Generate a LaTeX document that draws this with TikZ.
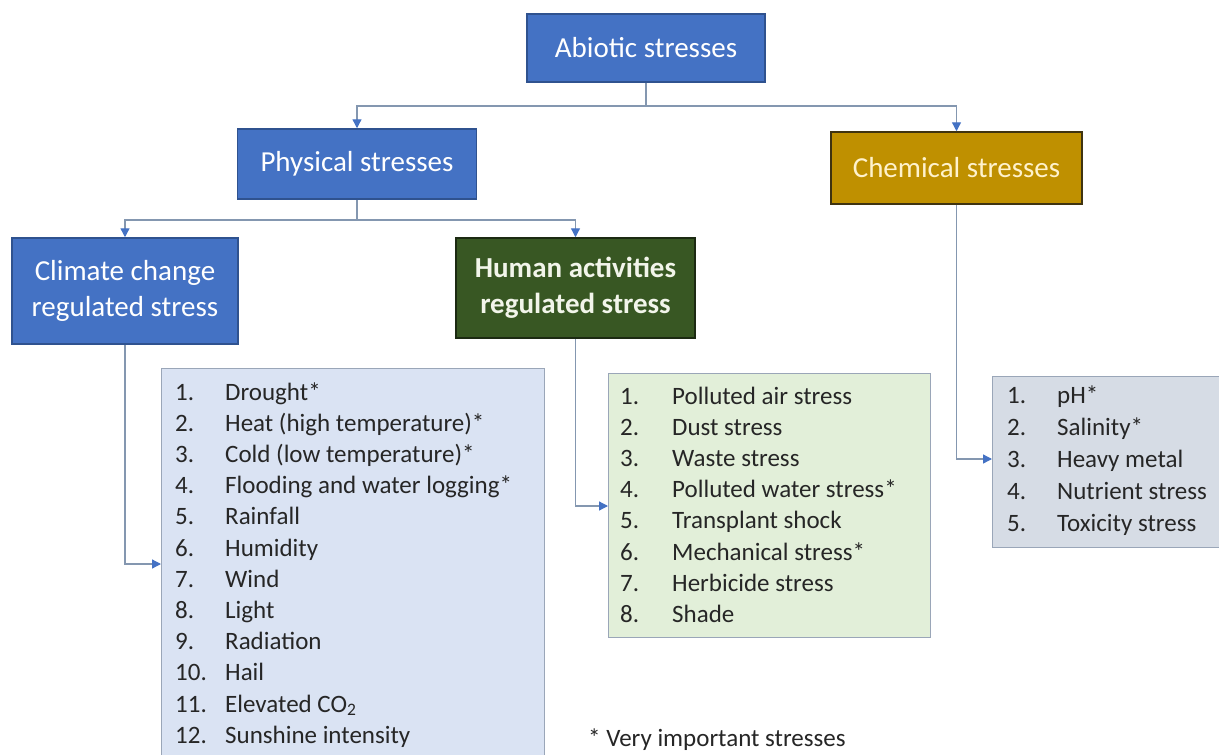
\documentclass[tikz,border=0pt]{standalone}
\usepackage{fontspec}
\setmainfont{Carlito}
\usetikzlibrary{arrows.meta}
\definecolor{boxblue}{HTML}{4472C4}
\definecolor{boxblueline}{HTML}{2F528F}
\definecolor{chemfill}{HTML}{BF9000}
\definecolor{chemline}{HTML}{3F3310}
\definecolor{humfill}{HTML}{385723}
\definecolor{humline}{HTML}{1C2A12}
\definecolor{conncol}{HTML}{8497B0}
\definecolor{tipcol}{HTML}{4472C4}
\definecolor{lblue}{HTML}{DAE3F3}
\definecolor{lgreen}{HTML}{E2EFD9}
\definecolor{lgrey}{HTML}{D6DCE5}
\definecolor{listline}{HTML}{9AA6B8}
\definecolor{listtext}{HTML}{262626}
\definecolor{chemtext}{HTML}{FFF2CC}
\definecolor{humtext}{HTML}{F2F5EA}
\begin{document}
\begin{tikzpicture}[x=1pt,y=-1pt,
  catbox/.style={rectangle, draw, line width=1.5pt, inner sep=0pt, align=center,
    font=\fontsize{29}{36}\selectfont},
  bluebox/.style={catbox, fill=boxblue, draw=boxblueline, text=white},
  chembox/.style={catbox, fill=chemfill, draw=chemline, text=chemtext},
  humbox/.style={catbox, fill=humfill, draw=humline, text=humtext, font=\fontsize{29}{36}\selectfont\bfseries},
  listbox/.style={rectangle, draw=listline, line width=1.2pt, anchor=north west, inner sep=0pt},
  listtxt/.style={anchor=base west, inner sep=0pt, text=listtext, align=left,
    font=\fontsize{25}{31.2}\selectfont},
  conn/.style={draw=conncol, line width=1.3pt},
  arr/.style={conn, -{Triangle[length=9pt,width=9pt,color=tipcol]}}]
\useasboundingbox (0,0) rectangle (1219,755);
\fill[white] (0,0) rectangle (1219,755);
\clip (0,0) rectangle (1219,755);

% category boxes
\node[bluebox, minimum width=238pt, minimum height=68pt] (abiotic) at (646,48) {Abiotic stresses};
\node[bluebox, minimum width=239pt, minimum height=70pt] (physical) at (357,164) {Physical stresses};
\node[chembox, minimum width=251pt, minimum height=72pt] (chem) at (956.5,168) {Chemical stresses};
\node[bluebox, minimum width=226pt, minimum height=106pt] (climate) at (125,291) {Climate change\\regulated stress};
\node[humbox, minimum width=239pt, minimum height=100pt] (human) at (575.5,288) {Human activities\\regulated stress};

% list boxes
\node[listbox, fill=lblue, minimum width=383pt, minimum height=420pt] (llist) at (161,368) {};
\node[listbox, fill=lgreen, minimum width=322pt, minimum height=264pt] (mlist) at (608,373) {};
\node[listbox, fill=lgrey, minimum width=260pt, minimum height=171pt] (rlist) at (992,376) {};

\node[listtxt] (ltext) at (175,400) {\begin{tabular}[t]{@{}p{50pt}@{}l@{}}
1. & Drought*\\
2. & Heat (high temperature)*\\
3. & Cold (low temperature)*\\
4. & Flooding and water logging*\\
5. & Rainfall\\
6. & Humidity\\
7. & Wind\\
8. & Light\\
9. & Radiation\\
10. & Hail\\
11. & Elevated CO\textsubscript{2}\\
12. & Sunshine intensity
\end{tabular}};

\node[listtxt] (mtext) at (620,404) {\begin{tabular}[t]{@{}p{52pt}@{}l@{}}
1. & Polluted air stress\\
2. & Dust stress\\
3. & Waste stress\\
4. & Polluted water stress*\\
5. & Transplant shock\\
6. & Mechanical stress*\\
7. & Herbicide stress\\
8. & Shade
\end{tabular}};

\node[listtxt, font=\fontsize{25}{32}\selectfont] (rtext) at (1007,403) {\begin{tabular}[t]{@{}p{50pt}@{}l@{}}
1. & pH*\\
2. & Salinity*\\
3. & Heavy metal\\
4. & Nutrient stress\\
5. & Toxicity stress
\end{tabular}};

\node[listtxt] (note) at (588,746) {* Very important stresses};

% connectors
\coordinate (j1) at (abiotic.south |- 0,106);
\draw[conn] (abiotic.south) -- (j1);
\draw[arr] (j1) -| (physical.north);
\draw[arr] (j1) -| (chem.north);
\coordinate (j2) at (physical.south |- 0,220);
\draw[conn] (physical.south) -- (j2);
\draw[arr] (j2) -| (climate.north);
\draw[arr] (j2) -| (human.north);
\draw[arr] (climate.south) |- (llist.west |- 0,564);
\draw[arr] (human.south) |- (mlist.west |- 0,506);
\draw[arr] (chem.south) |- (rlist.west |- 0,459);
\end{tikzpicture}
\end{document}
